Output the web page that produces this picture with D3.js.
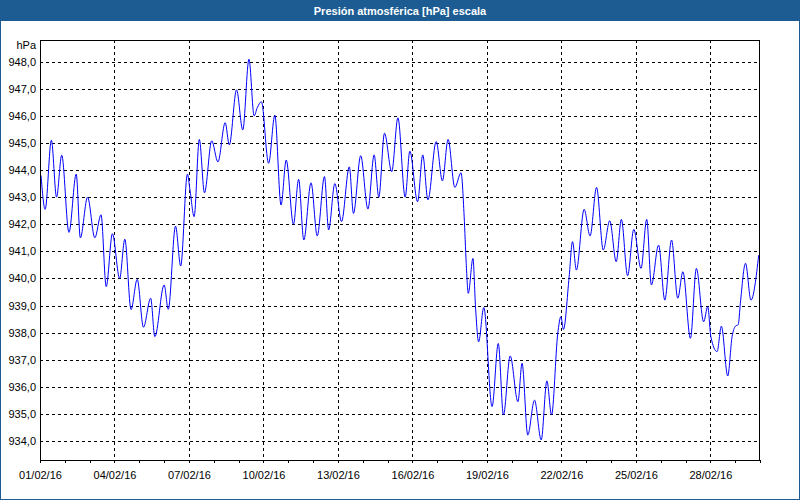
<!DOCTYPE html>
<html>
<head>
<meta charset="utf-8">
<script src="https://cdn.jsdelivr.net/npm/d3@7"></script>
<style>
  body { margin: 0; padding: 0; background: #fff; }
  svg { display: block; }
</style>
</head>
<body>
<script>
// Presión atmosférica, febrero 2016 (máximos y mínimos)
const times = [
  "2016-02-01 01:00", "2016-02-01 05:00", "2016-02-01 11:00", "2016-02-01 16:00", "2016-02-01 21:00",
  "2016-02-02 04:00", "2016-02-02 11:00", "2016-02-02 15:00", "2016-02-02 22:00",
  "2016-02-03 05:00", "2016-02-03 11:00", "2016-02-03 16:00", "2016-02-03 22:00",
  "2016-02-04 05:00", "2016-02-04 10:00", "2016-02-04 16:00", "2016-02-04 22:00",
  "2016-02-05 04:00", "2016-02-05 11:00", "2016-02-05 15:00",
  "2016-02-06 00:00", "2016-02-06 04:00", "2016-02-06 11:00", "2016-02-06 16:00", "2016-02-06 22:30",
  "2016-02-07 01:00", "2016-02-07 05:00", "2016-02-07 10:00", "2016-02-07 15:00", "2016-02-07 22:00",
  "2016-02-08 04:00", "2016-02-08 11:00", "2016-02-08 15:00", "2016-02-08 22:00",
  "2016-02-09 04:00", "2016-02-09 10:00", "2016-02-09 15:00", "2016-02-09 18:00", "2016-02-09 22:00",
  "2016-02-10 05:00", "2016-02-10 11:00", "2016-02-10 17:00", "2016-02-10 22:00",
  "2016-02-11 05:00", "2016-02-11 10:00", "2016-02-11 15:00", "2016-02-11 22:00",
  "2016-02-12 04:00", "2016-02-12 11:00", "2016-02-12 15:00", "2016-02-12 21:00",
  "2016-02-13 03:30", "2016-02-13 11:00", "2016-02-13 15:00", "2016-02-13 22:00",
  "2016-02-14 05:00", "2016-02-14 11:00", "2016-02-14 15:30", "2016-02-14 21:00",
  "2016-02-15 04:00", "2016-02-15 10:00", "2016-02-15 17:00", "2016-02-15 21:30",
  "2016-02-16 05:00", "2016-02-16 10:00", "2016-02-16 15:00", "2016-02-16 23:00",
  "2016-02-17 05:00", "2016-02-17 10:30", "2016-02-17 17:00", "2016-02-17 23:00",
  "2016-02-18 02:00", "2016-02-18 04:00", "2016-02-18 06:00", "2016-02-18 10:30", "2016-02-18 13:00",
  "2016-02-18 16:00", "2016-02-18 21:00",
  "2016-02-19 05:00", "2016-02-19 11:00", "2016-02-19 16:00", "2016-02-19 22:30",
  "2016-02-20 06:00", "2016-02-20 10:00", "2016-02-20 15:30", "2016-02-20 22:00",
  "2016-02-21 04:30", "2016-02-21 10:00", "2016-02-21 14:30", "2016-02-21 20:30", "2016-02-21 23:30",
  "2016-02-22 02:00", "2016-02-22 07:30", "2016-02-22 10:45", "2016-02-22 14:30", "2016-02-22 22:00",
  "2016-02-23 03:45", "2016-02-23 10:00", "2016-02-23 16:30", "2016-02-23 22:45",
  "2016-02-24 05:00", "2016-02-24 10:00", "2016-02-24 16:00", "2016-02-24 22:00",
  "2016-02-25 05:00", "2016-02-25 10:30", "2016-02-25 15:00", "2016-02-25 22:00",
  "2016-02-26 04:00", "2016-02-26 10:30", "2016-02-26 16:30", "2016-02-26 21:30",
  "2016-02-27 04:45", "2016-02-27 10:30", "2016-02-27 17:30", "2016-02-27 21:30",
  "2016-02-28 00:30", "2016-02-28 06:30", "2016-02-28 10:40", "2016-02-28 16:50", "2016-02-28 21:00",
  "2016-02-29 00:15", "2016-02-29 03:00", "2016-02-29 05:00", "2016-02-29 10:00", "2016-02-29 15:15",
  "2016-02-29 22:45"
];
const pressure = [
  943.8, 942.55, 945.1, 943.0, 944.55,
  941.7, 943.85, 941.5, 943.0,
  941.5, 942.35, 939.7, 941.65,
  940.0, 941.45, 938.85, 939.97,
  938.2, 939.27, 937.85,
  939.76, 938.86, 941.93, 940.46, 943.85,
  943.26, 942.28, 945.13, 943.16, 945.08,
  944.3, 945.75, 944.93, 946.96,
  945.48, 948.09, 946.0, 946.3, 946.52,
  944.25, 946.03, 942.71, 944.37,
  942.0, 943.66, 941.42, 943.53,
  941.57, 943.76, 941.79, 943.5,
  942.1, 944.12, 942.4, 944.53,
  942.56, 944.56, 943.0, 945.36,
  943.94, 945.93, 943.0, 944.7,
  942.83, 944.56, 942.9, 945.05,
  943.6, 945.13, 943.36, 943.9,
  942.3, 940.56, 939.45, 940.74, 938.95,
  937.66, 938.93,
  935.27, 937.6, 934.96, 937.14,
  935.45, 936.87, 934.22, 935.51,
  934.04, 936.22, 934.96, 937.97, 938.59,
  938.12, 940.06, 941.36, 940.31, 942.55,
  941.57, 943.36, 941.05, 942.13,
  940.62, 942.18, 940.1, 941.81,
  940.37, 942.18, 939.76, 941.23,
  939.2, 941.42, 939.27, 940.25,
  937.79, 940.37, 938.4, 938.96,
  937.85, 937.3, 938.24, 936.4, 937.85,
  938.24, 938.3, 939.08, 940.56, 939.2,
  940.86
];
const yTicks = [934, 935, 936, 937, 938, 939, 940, 941, 942, 943, 944, 945, 946, 947, 948];
const xTickLabels = ["01/02/16", "04/02/16", "07/02/16", "10/02/16", "13/02/16",
                     "16/02/16", "19/02/16", "22/02/16", "25/02/16", "28/02/16"];
const titleText = "Presión atmosférica [hPa] escala";
const unitText = "hPa";

const W = 800, H = 500;
const frameBlue = "#1c5c93";
const font = "'Liberation Sans', Arial, sans-serif";

const parseTime = d3.timeParse("%Y-%m-%d %H:%M");
const parseLabel = d3.timeParse("%d/%m/%y");
const data = times.map((t, i) => ({ t: parseTime(t), v: pressure[i] }));

const svg = d3.select("body").append("svg")
  .attr("width", W)
  .attr("height", H);

// outer frame + title bar
svg.append("rect").attr("x", 0.5).attr("y", 0.5).attr("width", W - 1).attr("height", H - 1)
  .attr("fill", "#fff").attr("stroke", frameBlue);
svg.append("rect").attr("x", 0).attr("y", 0).attr("width", W).attr("height", 21)
  .attr("fill", frameBlue);
svg.append("text")
  .attr("x", W / 2).attr("y", 15)
  .attr("text-anchor", "middle")
  .attr("fill", "#fff")
  .attr("font-family", font)
  .attr("font-weight", "bold")
  .attr("font-size", "11px")
  .text(titleText);

const plot = { left: 40, right: 760, top: 40, bottom: 460 };

const x = d3.scaleTime()
  .domain([new Date(2016, 1, 1), new Date(2016, 2, 1)])
  .range([plot.left, plot.right]);
const y = d3.scaleLinear()
  .domain([933.3, 948.8])
  .range([plot.bottom, plot.top]);

const locale = d3.formatLocale({ decimal: ",", thousands: ".", grouping: [3], currency: ["", "€"] });
const fmt = locale.format(".1f");

const majorDates = xTickLabels.map(parseLabel);

// grid
const grid = svg.append("g").attr("stroke", "#000").attr("stroke-dasharray", "3,3")
  .attr("shape-rendering", "crispEdges");
grid.selectAll("line.h").data(yTicks).join("line")
  .attr("class", "h")
  .attr("x1", plot.left).attr("x2", plot.right)
  .attr("y1", d => Math.round(y(d)) + 0.5).attr("y2", d => Math.round(y(d)) + 0.5);
grid.selectAll("line.v").data(majorDates.slice(1)).join("line")
  .attr("class", "v")
  .attr("x1", d => Math.round(x(d)) + 0.5).attr("x2", d => Math.round(x(d)) + 0.5)
  .attr("y1", plot.top).attr("y2", plot.bottom);

// x axis with daily minor ticks
const xAxisMinor = d3.axisBottom(x)
  .ticks(d3.timeDay.every(1))
  .tickSize(3)
  .tickFormat("");
svg.append("g")
  .attr("transform", `translate(0,${plot.bottom})`)
  .call(xAxisMinor)
  .call(g => g.select(".domain").remove())
  .call(g => g.selectAll("line").attr("stroke", "#000").attr("shape-rendering", "crispEdges"));

const xAxis = d3.axisBottom(x)
  .tickValues(majorDates)
  .tickSize(3)
  .tickPadding(8)
  .tickFormat(d3.timeFormat("%d/%m/%y"));
svg.append("g")
  .attr("transform", `translate(0,${plot.bottom})`)
  .call(xAxis)
  .call(g => g.select(".domain").remove())
  .call(g => g.selectAll("line").attr("stroke", "#000").attr("shape-rendering", "crispEdges"))
  .call(g => g.selectAll("text").attr("font-family", font).attr("font-size", "11px").attr("fill", "#000"));

// y axis labels
const yAxis = d3.axisLeft(y)
  .tickValues(yTicks)
  .tickSize(0)
  .tickPadding(4)
  .tickFormat(fmt);
svg.append("g")
  .attr("transform", `translate(${plot.left},0)`)
  .call(yAxis)
  .call(g => g.select(".domain").remove())
  .call(g => g.selectAll("text").attr("font-family", font).attr("font-size", "11px").attr("fill", "#000"));

svg.append("text")
  .attr("x", plot.left - 4).attr("y", 49)
  .attr("text-anchor", "end")
  .attr("font-family", font)
  .attr("font-size", "11px")
  .text(unitText);

// line
const line = d3.line()
  .x(d => x(d.t))
  .y(d => y(d.v))
  .curve(d3.curveMonotoneX);

svg.append("path")
  .datum(data)
  .attr("fill", "none")
  .attr("stroke", "#0000ff")
  .attr("stroke-width", 1)
  .attr("d", line);

// plot frame
svg.append("rect")
  .attr("x", plot.left + 0.5).attr("y", plot.top + 0.5)
  .attr("width", plot.right - plot.left - 1).attr("height", plot.bottom - plot.top)
  .attr("fill", "none")
  .attr("stroke", "#000")
  .attr("shape-rendering", "crispEdges");
</script>
</body>
</html>
